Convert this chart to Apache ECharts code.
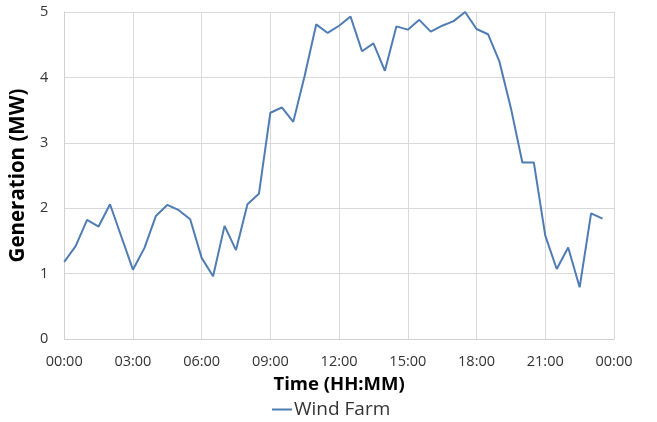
<!DOCTYPE html>
<html><head><meta charset="utf-8">
<script src="https://cdn.jsdelivr.net/npm/echarts@6/dist/echarts.min.js"></script>
<style>html,body{margin:0;padding:0;background:#fff}#c{width:657px;height:422px}</style>
</head><body><div id="c"></div>
<script>
const times = ['00:00','00:30','01:00','01:30','02:00','02:30','03:00','03:30','04:00','04:30','05:00','05:30',
'06:00','06:30','07:00','07:30','08:00','08:30','09:00','09:30','10:00','10:30','11:00','11:30',
'12:00','12:30','13:00','13:30','14:00','14:30','15:00','15:30','16:00','16:30','17:00','17:30',
'18:00','18:30','19:00','19:30','20:00','20:30','21:00','21:30','22:00','22:30','23:00','23:30'];
const windFarm = [1.18,1.42,1.82,1.72,2.06,1.56,1.06,1.39,1.88,2.05,1.97,1.83,
1.24,0.96,1.73,1.36,2.06,2.22,3.46,3.54,3.32,4.03,4.81,4.68,
4.79,4.93,4.40,4.52,4.10,4.78,4.73,4.88,4.70,4.79,4.86,5.00,
4.74,4.66,4.24,3.53,2.70,2.70,1.58,1.07,1.40,0.79,1.92,1.84];
const xTickLabels = ['00:00','03:00','06:00','09:00','12:00','15:00','18:00','21:00','00:00'];
const yTicks = [0,1,2,3,4,5];

const toHours = t => { const [h,m] = t.split(':').map(Number); return h + m/60; };
const data = times.map((t,i) => [toHours(t), windFarm[i]]);
const font = '"Open Sans", sans-serif';
const chart = echarts.init(document.getElementById('c'));
chart.setOption({
  animation:false,
  grid:{left:62,right:43,top:12,bottom:83,containLabel:false},
  legend:{top:400,left:272,itemWidth:20,itemHeight:2,itemGap:2,icon:'rect',padding:0,
    textStyle:{fontFamily:font,fontSize:19,color:'#333',padding:[0,0,0,-3]},data:['Wind Farm']},
  xAxis:{type:'value',min:0,max:24,interval:3,
    name:'Time (HH:MM)',nameLocation:'middle',nameGap:36,
    nameTextStyle:{fontFamily:font,fontSize:18.5,fontWeight:'bold',color:'#000'},
    axisLine:{show:true,lineStyle:{color:'#d0d0d0'}},axisTick:{show:false},
    axisLabel:{fontFamily:font,fontSize:14.5,color:'#333',margin:15,
      formatter:(v)=>xTickLabels[Math.round(v/3)]},
    splitLine:{show:true,lineStyle:{color:'#d9d9d9',width:1}}},
  yAxis:{type:'value',min:yTicks[0],max:yTicks[yTicks.length-1],interval:1,
    name:'Generation (MW)',nameLocation:'middle',nameGap:27,
    nameTextStyle:{fontFamily:font,fontSize:20.5,fontWeight:'bold',color:'#000'},
    axisLine:{show:true,lineStyle:{color:'#d0d0d0'}},axisTick:{show:false},
    axisLabel:{fontFamily:font,fontSize:14.5,color:'#333',margin:16},
    splitLine:{show:true,lineStyle:{color:'#d9d9d9',width:1}}},
  series:[{name:'Wind Farm',type:'line',data:data,showSymbol:false,symbol:'none',
    lineStyle:{color:'#4f7cb3',width:2},itemStyle:{color:'#4f7cb3'}}]
});
</script></body></html>
